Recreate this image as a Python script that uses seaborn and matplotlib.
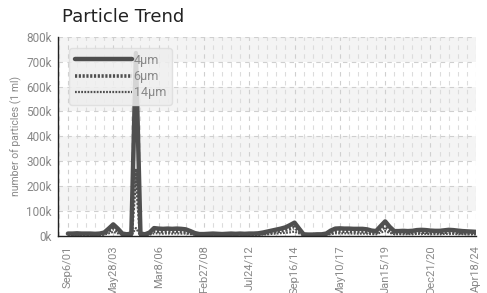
import numpy as np
import pandas as pd
import seaborn as sns
import matplotlib.pyplot as plt
from matplotlib.ticker import FuncFormatter, MultipleLocator, FixedLocator

# sample index labels shown on the x axis (every 10th sample)
tick_labels = ["Sep6/01", "May28/03", "Mar8/06", "Feb27/08", "Jul24/12",
               "Sep16/14", "May10/17", "Jan15/19", "Dec21/20", "Apr18/24"]

# particle counts per ml, in thousands, one value per sample
um4 = [8, 8, 9, 8, 8, 8, 7, 8, 12, 28, 45, 28, 8, 5, 8, 735, 8, 5, 12, 30,
       28, 27, 28, 27, 28, 27, 25, 18, 10, 6, 6, 7, 8, 7, 6, 7, 8, 7, 8, 7,
       8, 8, 9, 12, 16, 20, 24, 28, 33, 42, 52, 28, 5, 4, 4, 5, 5, 8, 20, 28,
       29, 28, 28, 27, 27, 27, 25, 20, 18, 38, 57, 35, 18, 18, 19, 18, 19, 22, 23, 22,
       20, 19, 19, 21, 23, 22, 20, 18, 17, 16, 15]
um6 = [5, 5, 6, 5, 5, 5, 5, 5, 8, 18, 28, 18, 5, 3, 4, 262, 4, 3, 8, 18,
       17, 16, 17, 16, 17, 16, 15, 11, 6, 4, 4, 4, 5, 4, 4, 4, 5, 4, 5, 4,
       5, 5, 6, 8, 10, 13, 16, 19, 22, 27, 33, 18, 3, 3, 3, 3, 3, 5, 12, 17,
       18, 17, 17, 16, 16, 16, 15, 12, 11, 24, 35, 21, 11, 11, 12, 11, 12, 13, 14, 13,
       12, 12, 12, 13, 14, 13, 12, 11, 10, 10, 9]
um14 = [2, 2, 3, 2, 2, 2, 2, 2, 4, 9, 15, 9, 3, 2, 2, 30, 2, 2, 4, 9,
        9, 8, 9, 8, 9, 8, 8, 6, 3, 2, 2, 2, 3, 2, 2, 2, 3, 2, 3, 2,
        3, 3, 3, 4, 5, 7, 8, 10, 11, 13, 16, 9, 2, 2, 2, 2, 2, 3, 6, 9,
        9, 9, 9, 8, 8, 8, 8, 6, 6, 12, 18, 11, 6, 6, 6, 6, 6, 7, 7, 7,
        6, 6, 6, 7, 7, 7, 6, 6, 5, 5, 5]

sns.set_style("white")
plt.rcParams['font.family'] = ['Roboto', 'DejaVu Sans']

idx = np.arange(len(um4))
df = pd.DataFrame({"sample": idx, "4µm": np.array(um4) * 1000,
                   "6µm": np.array(um6) * 1000, "14µm": np.array(um14) * 1000})

fig = plt.figure(figsize=(4.87, 2.93), dpi=100)
ax = fig.add_axes([0.119, 0.196, 0.858, 0.678])

grey = "#4f4f4f"
sns.lineplot(data=df, x="sample", y="4µm", ax=ax, color=grey, linewidth=3.2,
             label="4µm")
sns.lineplot(data=df, x="sample", y="6µm", ax=ax, color=grey, linewidth=2.6,
             linestyle=(0, (0.6, 0.45)), label="6µm")
sns.lineplot(data=df, x="sample", y="14µm", ax=ax, color=grey, linewidth=1.6,
             linestyle=(0, (0.8, 0.6)), label="14µm")

ax.set_xlim(-2.2, 90)
ax.set_ylim(0, 800000)

# alternating bands
for lo in range(0, 800000, 200000):
    ax.axhspan(lo + 100000, lo + 200000, color="#f4f4f4", zorder=0, lw=0)

ax.xaxis.set_major_locator(FixedLocator(list(range(0, 91, 10))))
ax.xaxis.set_minor_locator(MultipleLocator(2))
ax.set_xticklabels(tick_labels, rotation=90)
ax.yaxis.set_major_locator(MultipleLocator(100000))
ax.yaxis.set_major_formatter(FuncFormatter(lambda v, p: f"{v/1000:.0f}k"))

ax.grid(True, which="major", color="#cfcfcf", linestyle=(0, (4, 4)), linewidth=0.8)
ax.grid(True, which="minor", axis="x", color="#dcdcdc", linestyle=(0, (4, 4)), linewidth=0.8)
ax.set_axisbelow(True)

for s in ["top", "right"]:
    ax.spines[s].set_visible(False)
for s in ["left", "bottom"]:
    ax.spines[s].set_color("#222222")
    ax.spines[s].set_linewidth(1.0)

ax.tick_params(axis="y", direction="inout", length=7, width=1, colors="#222222",
               labelcolor="#888888", labelsize=8.5, pad=1)
ax.tick_params(axis="x", direction="out", length=4, width=1, colors="#222222",
               labelcolor="#888888", labelsize=8, pad=3)
ax.tick_params(axis="x", which="minor", length=0)

ax.set_xlabel("")
ax.set_ylabel("number of particles (1 ml)", color="#888888", fontsize=7.5, labelpad=3)

fig.text(0.127, 0.925, "Particle Trend", fontsize=13, color="#222222",
         family="DejaVu Sans", ha="left", va="baseline")

leg = ax.legend(loc="upper left", bbox_to_anchor=(0.012, 0.975), handlelength=4.6,
                handletextpad=0.1, labelspacing=0.25, fontsize=9, fancybox=True,
                framealpha=0.85, facecolor="#eeeeee", edgecolor="#dddddd",
                borderpad=0.45)
for t in leg.get_texts():
    t.set_color("#888888")

fig.savefig("out.png", dpi=100)
